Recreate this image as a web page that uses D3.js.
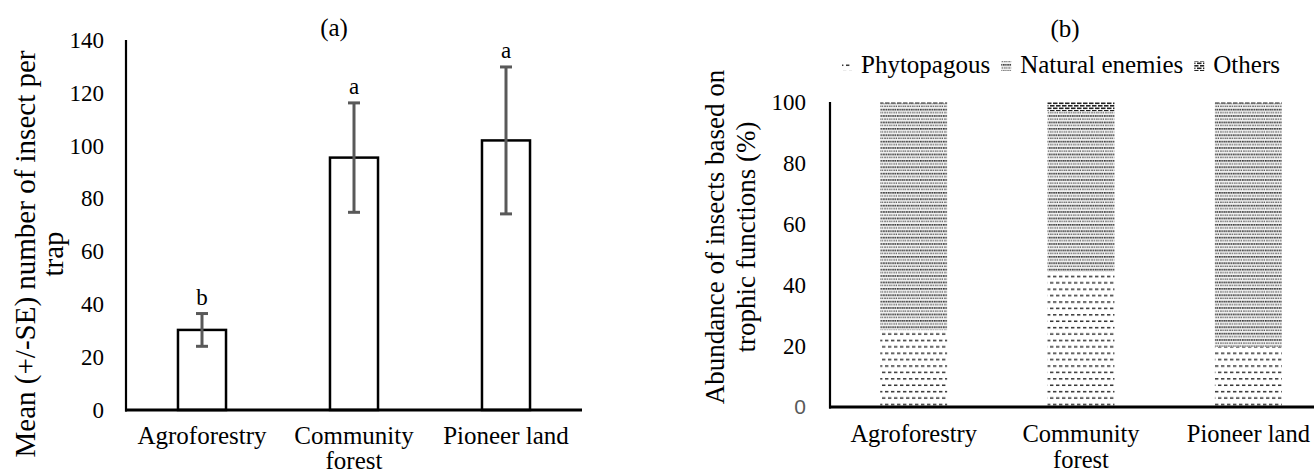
<!DOCTYPE html>
<html>
<head>
<meta charset="utf-8">
<script src="https://cdn.jsdelivr.net/npm/d3@7"></script>
<style>
  html, body { margin: 0; padding: 0; background: #fff; }
  svg { display: block; }
</style>
</head>
<body>
<svg id="chart" width="1314" height="475"></svg>
<script>
// ---------- DATA ----------
const categories = ["Agroforestry", "Community\nforest", "Pioneer land"];
const meanValues = [30.3, 95.5, 102.0];
const seValues = [6.2, 20.7, 27.8];
const sigLetters = ["b", "a", "a"];
const yTicksA = [0, 20, 40, 60, 80, 100, 120, 140];

const seriesNames = ["Phytopagous", "Natural enemies", "Others"];
const phytopagous = [25.2, 44.4, 19.8];
const naturalEnemies = [74.3, 52.6, 79.7];
const others = [0.5, 3.0, 0.5];
const yTicksB = [0, 20, 40, 60, 80, 100];

// ---------- SETUP ----------
const SERIF = "'Liberation Serif', 'Times New Roman', serif";
const svg = d3.select("#chart");
const defs = svg.append("defs");

// patterns
const pPhyto = defs.append("pattern").attr("id", "pat-phyto")
  .attr("patternUnits", "userSpaceOnUse").attr("width", 6).attr("height", 12.8);
pPhyto.append("rect").attr("x", 0).attr("y", 0.5).attr("width", 3.4).attr("height", 1.5).attr("fill", "#333");
pPhyto.append("rect").attr("x", 3).attr("y", 6.9).attr("width", 3.4).attr("height", 1.5).attr("fill", "#333");
pPhyto.append("rect").attr("x", -3).attr("y", 6.9).attr("width", 3.4).attr("height", 1.5).attr("fill", "#333");

const pNE = defs.append("pattern").attr("id", "pat-ne")
  .attr("patternUnits", "userSpaceOnUse").attr("width", 4.6).attr("height", 6.4);
pNE.append("rect").attr("width", 4.6).attr("height", 6.4).attr("fill", "#f2f2f2");
pNE.append("rect").attr("x", 0).attr("y", 0).attr("width", 1.6).attr("height", 1.6).attr("fill", "#333");
pNE.append("rect").attr("x", 2.3).attr("y", 0).attr("width", 1.6).attr("height", 1.6).attr("fill", "#333");
pNE.append("rect").attr("x", 1.15).attr("y", 3.2).attr("width", 1.4).attr("height", 1.4).attr("fill", "#555");
pNE.append("rect").attr("x", 3.45).attr("y", 3.2).attr("width", 1.4).attr("height", 1.4).attr("fill", "#555");

const pOth = defs.append("pattern").attr("id", "pat-oth")
  .attr("patternUnits", "userSpaceOnUse").attr("width", 6).attr("height", 5);
pOth.append("rect").attr("x", 0).attr("y", 0).attr("width", 4.5).attr("height", 1.6).attr("fill", "#222");
pOth.append("rect").attr("x", 3).attr("y", 2.5).attr("width", 4.5).attr("height", 1.6).attr("fill", "#222");
pOth.append("rect").attr("x", -3).attr("y", 2.5).attr("width", 4.5).attr("height", 1.6).attr("fill", "#222");

const patFills = ["url(#pat-phyto)", "url(#pat-ne)", "url(#pat-oth)"];

function drawCatLabels(g, x, y0, size, lineGap) {
  categories.forEach(c => {
    const lines = c.split("\n");
    const t = g.append("text")
      .attr("text-anchor", "middle")
      .attr("font-size", size)
      .attr("x", x(c) + x.bandwidth() / 2)
      .attr("y", y0);
    lines.forEach((ln, i) => {
      t.append("tspan").attr("x", x(c) + x.bandwidth() / 2).attr("dy", i === 0 ? 0 : lineGap).text(ln);
    });
  });
}

// ---------- CHART (a) ----------
const gA = svg.append("g");
const xA = d3.scaleBand().domain(categories).range([126, 582]).paddingInner(0.684).paddingOuter(0.342);
const yA = d3.scaleLinear().domain([0, 140]).range([410, 40]);

gA.selectAll("rect.bar").data(categories).join("rect")
  .attr("class", "bar")
  .attr("x", d => xA(d))
  .attr("width", xA.bandwidth())
  .attr("y", (d, i) => yA(meanValues[i]))
  .attr("height", (d, i) => yA(0) - yA(meanValues[i]))
  .attr("fill", "#fff").attr("stroke", "#000").attr("stroke-width", 2.5);

const eb = gA.selectAll("g.err").data(categories).join("g").attr("class", "err")
  .attr("stroke", "#595959").attr("stroke-width", 3);
eb.append("line")
  .attr("x1", d => xA(d) + xA.bandwidth() / 2).attr("x2", d => xA(d) + xA.bandwidth() / 2)
  .attr("y1", (d, i) => yA(meanValues[i] - seValues[i]))
  .attr("y2", (d, i) => yA(meanValues[i] + seValues[i]));
[1, -1].forEach(s => {
  eb.append("line")
    .attr("x1", d => xA(d) + xA.bandwidth() / 2 - 6).attr("x2", d => xA(d) + xA.bandwidth() / 2 + 6)
    .attr("y1", (d, i) => yA(meanValues[i] + s * seValues[i]))
    .attr("y2", (d, i) => yA(meanValues[i] + s * seValues[i]));
});

gA.selectAll("text.sig").data(categories).join("text")
  .attr("class", "sig")
  .attr("text-anchor", "middle").attr("font-size", 23)
  .attr("x", d => xA(d) + xA.bandwidth() / 2)
  .attr("y", (d, i) => yA(meanValues[i] + seValues[i]) - 9)
  .text((d, i) => sigLetters[i]);

const axA = gA.append("g").attr("transform", "translate(126,0)")
  .call(d3.axisLeft(yA).tickValues(yTicksA).tickSize(0).tickPadding(22));
axA.select(".domain").remove();
axA.attr("font-family", null).attr("font-size", null);
axA.selectAll("text").attr("font-size", 23).attr("fill", "#000");
gA.append("line").attr("x1", 126).attr("x2", 126).attr("y1", yA(140)).attr("y2", yA(0) + 1.5)
  .attr("stroke", "#000").attr("stroke-width", 2.2);
gA.append("line").attr("x1", 125).attr("x2", 582).attr("y1", yA(0)).attr("y2", yA(0))
  .attr("stroke", "#000").attr("stroke-width", 3.2);

drawCatLabels(gA, xA, 444, 25, 25);

gA.append("text").attr("text-anchor", "middle").attr("font-size", 25)
  .attr("x", 334).attr("y", 36).text("(a)");

[["Mean (+/-SE) number of insect per", 35], ["trap", 63]].forEach(([t, bx]) => {
  gA.append("text").attr("text-anchor", "middle").attr("font-size", 29)
    .attr("transform", `translate(${bx},254) rotate(-90)`).text(t);
});

// ---------- CHART (b) ----------
const gB = svg.append("g");
const xB = d3.scaleBand().domain(categories).range([830, 1332]).paddingInner(0.6).paddingOuter(0.3);
const yB = d3.scaleLinear().domain([0, 100]).range([407, 102]);

const stackRows = categories.map((c, i) => ({
  cat: c, "Phytopagous": phytopagous[i], "Natural enemies": naturalEnemies[i], "Others": others[i]
}));
const stacked = d3.stack().keys(seriesNames)(stackRows);

gB.selectAll("g.series").data(stacked).join("g").attr("class", "series")
  .attr("fill", (d, i) => patFills[i])
  .selectAll("rect").data(d => d).join("rect")
  .attr("x", d => xB(d.data.cat))
  .attr("width", xB.bandwidth())
  .attr("y", d => yB(d[1]))
  .attr("height", d => yB(d[0]) - yB(d[1]));

const axB = gB.append("g").attr("transform", "translate(830,0)")
  .call(d3.axisLeft(yB).tickValues(yTicksB).tickSize(0).tickPadding(24));
axB.select(".domain").remove();
axB.attr("font-family", null).attr("font-size", null);
axB.selectAll("text").attr("font-size", 23).attr("fill", "#000");

gB.append("line").attr("x1", 830).attr("x2", 830).attr("y1", yB(100)).attr("y2", yB(0) + 1.5)
  .attr("stroke", "#000").attr("stroke-width", 2.2);
gB.append("line").attr("x1", 829).attr("x2", 1314).attr("y1", yB(0)).attr("y2", yB(0))
  .attr("stroke", "#000").attr("stroke-width", 3.2);

drawCatLabels(gB, xB, 442, 24.5, 26);

gB.append("text").attr("text-anchor", "middle").attr("font-size", 25)
  .attr("x", 1065).attr("y", 37).text("(b)");

[["Abundance of insects based on", 724], ["trophic functions (%)", 755]].forEach(([t, bx]) => {
  gB.append("text").attr("text-anchor", "middle").attr("font-size", 27)
    .attr("transform", `translate(${bx},237) rotate(-90)`).text(t);
});

// apply serif font to every text
svg.selectAll("text, tspan").style("font-family", SERIF);
axB.selectAll(".tick").filter(d => d === 0).select("text")
  .style("font-family", "'Liberation Sans', Arial, sans-serif").attr("font-size", 21).attr("fill", "#595959");

// legend
const leg = gB.append("g");
let lx = 842;
seriesNames.forEach((n, i) => {
  leg.append("rect").attr("x", lx).attr("y", 61).attr("width", 10).attr("height", 10).attr("fill", patFills[i]);
  const t = leg.append("text").attr("x", lx + 19).attr("y", 73).attr("font-size", 25)
    .style("font-family", SERIF).text(n);
  lx = lx + 19 + t.node().getComputedTextLength() + 11;
});
</script>
</body>
</html>
